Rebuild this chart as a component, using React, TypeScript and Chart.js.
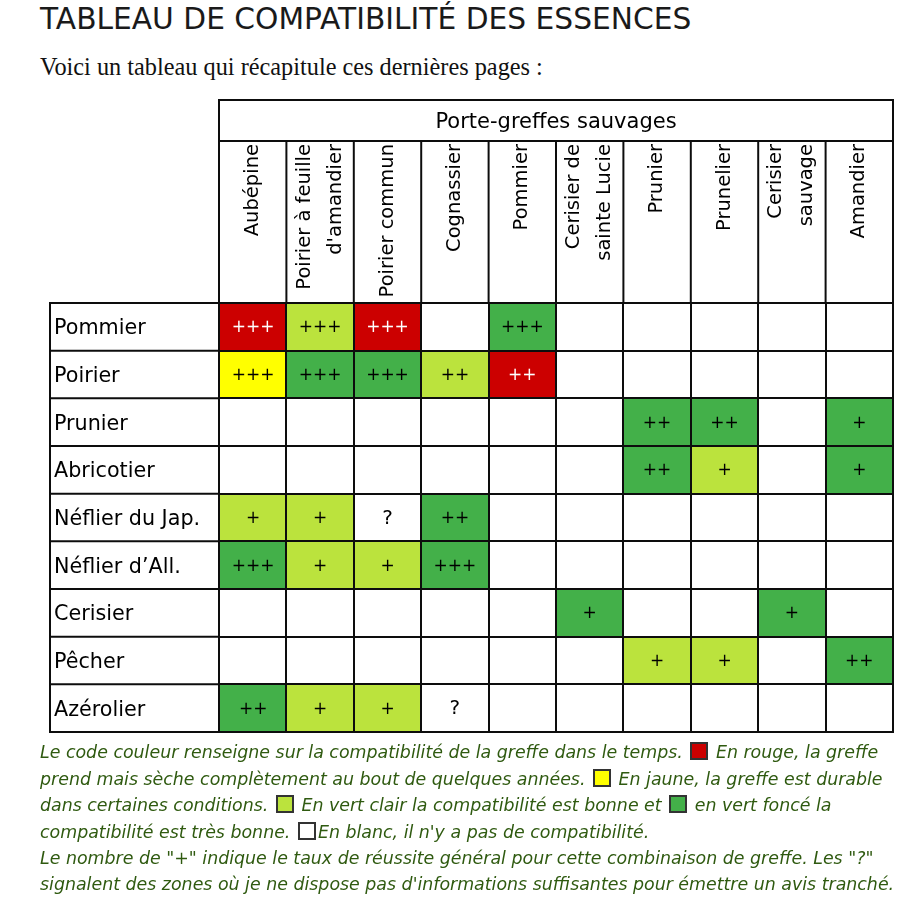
import React, { useEffect, useRef } from "react";
import { Chart, registerables } from "chart.js";
Chart.register(...registerables);

const TITLE = "TABLEAU DE COMPATIBILITÉ DES ESSENCES";
const SUBTITLE = "Voici un tableau qui récapitule ces dernières pages :";
const HEADER = "Porte-greffes sauvages";

const rootstocks: string[][] = [
  ["Aubépine"],
  ["Poirier à feuille", "d'amandier"],
  ["Poirier commun"],
  ["Cognassier"],
  ["Pommier"],
  ["Cerisier de", "sainte Lucie"],
  ["Prunier"],
  ["Prunelier"],
  ["Cerisier", "sauvage"],
  ["Amandier"],
];

const scions = [
  "Pommier",
  "Poirier",
  "Prunier",
  "Abricotier",
  "Néflier du Jap.",
  "Néflier d’All.",
  "Cerisier",
  "Pêcher",
  "Azérolier",
];

// R = rouge, Y = jaune, L = vert clair, D = vert foncé, "" = blanc
const colorCodes: string[][] = [
  ["R", "L", "R", "", "D", "", "", "", "", ""],
  ["Y", "D", "D", "L", "R", "", "", "", "", ""],
  ["", "", "", "", "", "", "D", "D", "", "D"],
  ["", "", "", "", "", "", "D", "L", "", "D"],
  ["L", "L", "", "D", "", "", "", "", "", ""],
  ["D", "L", "L", "D", "", "", "", "", "", ""],
  ["", "", "", "", "", "D", "", "", "D", ""],
  ["", "", "", "", "", "", "L", "L", "", "D"],
  ["D", "L", "L", "", "", "", "", "", "", ""],
];

const marks: string[][] = [
  ["+++", "+++", "+++", "", "+++", "", "", "", "", ""],
  ["+++", "+++", "+++", "++", "++", "", "", "", "", ""],
  ["", "", "", "", "", "", "++", "++", "", "+"],
  ["", "", "", "", "", "", "++", "+", "", "+"],
  ["+", "+", "?", "++", "", "", "", "", "", ""],
  ["+++", "+", "+", "+++", "", "", "", "", "", ""],
  ["", "", "", "", "", "+", "", "", "+", ""],
  ["", "", "", "", "", "", "+", "+", "", "++"],
  ["++", "+", "+", "?", "", "", "", "", "", ""],
];

const palette: Record<string, string> = {
  R: "#cc0000",
  Y: "#ffff00",
  L: "#bbe33d",
  D: "#43b049",
  "": "#ffffff",
};

const LINE = "#0d0d0d";
const FOOT = "#2f5a10";

function Box({ c }: { c: string }) {
  return (
    <span
      style={{
        display: "inline-block",
        width: 14,
        height: 14,
        background: c,
        border: "2px solid #333",
        verticalAlign: "-2px",
        margin: "0 2px",
      }}
    />
  );
}

export default function App() {
  const ref = useRef<HTMLCanvasElement>(null);

  useEffect(() => {
    const canvas = ref.current!;
    const tablePlugin = {
      id: "tableDecor",
      afterDraw(chart: any) {
        const { ctx, chartArea } = chart;
        const xs = chart.scales.x;
        const ys = chart.scales.y;
        const n = rootstocks.length;
        const x0 = xs.getPixelForValue(0);
        const x1 = xs.getPixelForValue(n);
        const headTop = 100;
        const headBot = 141;
        const line = (ax: number, ay: number, bx: number, by: number) => {
          ctx.beginPath();
          ctx.moveTo(ax, ay);
          ctx.lineTo(bx, by);
          ctx.stroke();
        };
        ctx.save();
        ctx.strokeStyle = LINE;
        ctx.lineWidth = 2;
        ctx.strokeRect(x0, headTop, x1 - x0, headBot - headTop);
        for (let i = 0; i <= n; i++) {
          const x = xs.getPixelForValue(i);
          line(x, headBot, x, chartArea.top);
        }
        // row label column
        const step = ys.getPixelForValue(1) - ys.getPixelForValue(0);
        const lx = 50;
        line(lx, chartArea.top - 1, lx, chartArea.bottom + 1);
        for (let i = 0; i <= scions.length; i++) {
          const y = ys.getPixelForValue(i) - step / 2;
          line(lx - 1, y, x0, y);
        }
        // header title
        ctx.fillStyle = "#000";
        ctx.textBaseline = "alphabetic";
        ctx.textAlign = "center";
        ctx.font = "21px 'DejaVu Sans'";
        ctx.fillText(HEADER, (x0 + x1) / 2, 128);
        // rotated column labels
        ctx.font = "19.5px 'DejaVu Sans'";
        ctx.textAlign = "right";
        ctx.textBaseline = "middle";
        rootstocks.forEach((lines, j) => {
          const cx = xs.getPixelForValue(j + 0.5);
          const gap = 31;
          lines.forEach((t, k) => {
            const off = (k - (lines.length - 1) / 2) * gap;
            ctx.save();
            ctx.translate(cx + off, 144);
            ctx.rotate(-Math.PI / 2);
            ctx.fillText(t, 0, 0);
            ctx.restore();
          });
        });
        // cell marks
        ctx.textAlign = "center";
        ctx.textBaseline = "middle";
        chart.data.datasets.forEach((ds: any, j: number) => {
          const meta = chart.getDatasetMeta(j);
          meta.data.forEach((el: any, i: number) => {
            const t = marks[i][j];
            if (!t) return;
            ctx.font = t === "?" ? "20px 'DejaVu Sans'" : "17px 'DejaVu Sans'";
            ctx.fillStyle = colorCodes[i][j] === "R" ? "#ffffff" : "#000000";
            ctx.fillText(t, (el.x + el.base) / 2, el.y + 1);
          });
        });
        ctx.restore();
      },
    };

    const chart = new Chart(canvas, {
      type: "bar",
      data: {
        labels: scions,
        datasets: rootstocks.map((r, j) => ({
          label: r.join(" "),
          data: scions.map(() => [j, j + 1]),
          backgroundColor: scions.map((_, i) => palette[colorCodes[i][j]]),
          borderWidth: 0,
          barPercentage: 1,
          categoryPercentage: 1,
          grouped: false,
        })),
      } as any,
      options: {
        indexAxis: "y",
        responsive: false,
        maintainAspectRatio: false,
        animation: false,
        layout: { padding: { left: 54, top: 303, right: 27, bottom: 181 } },
        plugins: {
          legend: { display: false },
          tooltip: { enabled: false },
          title: { display: false },
        },
        scales: {
          x: {
            type: "linear",
            min: 0,
            max: rootstocks.length,
            position: "bottom",
            ticks: { display: false, stepSize: 1 },
            grid: { color: LINE, lineWidth: 2, drawTicks: false, z: 1 },
            border: { display: true, color: LINE, width: 2, z: 1 },
            afterFit: (s: any) => {
              s.height = 0;
            },
          },
          y: {
            type: "category",
            offset: true,
            ticks: {
              crossAlign: "far",
              color: "#000",
              padding: 0,
              labelOffset: 2,
              font: { family: "DejaVu Sans", size: 20.7 },
            },
            grid: { color: LINE, lineWidth: 2, drawTicks: false, offset: true, z: 1 },
            border: { display: true, color: LINE, width: 2, z: 1 },
            afterFit: (s: any) => {
              s.width = 165;
            },
          },
        },
      } as any,
      plugins: [tablePlugin],
    });
    return () => chart.destroy();
  }, []);

  const foot: React.CSSProperties = {
    position: "absolute",
    left: 40,
    top: 739.3,
    fontFamily: "'DejaVu Sans'",
    fontStyle: "italic",
    fontSize: 17.4,
    lineHeight: "26.4px",
    color: FOOT,
    whiteSpace: "nowrap",
    margin: 0,
  };

  return (
    <div style={{ position: "absolute", left: 0, top: 0, width: 920, height: 913, background: "#fff" }}>
      <div
        style={{
          position: "absolute",
          left: 40,
          top: 4,
          fontFamily: "'DejaVu Sans'",
          fontSize: 29.7,
          lineHeight: "30px",
          color: "#1a1a1a",
          whiteSpace: "nowrap",
        }}
      >
        {TITLE}
      </div>
      <div
        style={{
          position: "absolute",
          left: 40,
          top: 55,
          fontFamily: "'Liberation Serif'",
          fontSize: 24.3,
          lineHeight: "24px",
          color: "#111",
          whiteSpace: "nowrap",
        }}
      >
        {SUBTITLE}
      </div>
      <canvas ref={ref} width={920} height={913} style={{ position: "absolute", left: 0, top: 0 }} />
      <div style={foot}>
        Le code couleur renseigne sur la compatibilité de la greffe dans le temps. <Box c={palette.R} /> En rouge, la greffe
        <br />
        prend mais sèche complètement au bout de quelques années. <Box c={palette.Y} /> En jaune, la greffe est durable
        <br />
        dans certaines conditions. <Box c={palette.L} /> En vert clair la compatibilité est bonne et <Box c={palette.D} /> en vert foncé la
        <br />
        compatibilité est très bonne. <Box c="#ffffff" />En blanc, il n'y a pas de compatibilité.
        <br />
        Le nombre de "+" indique le taux de réussite général pour cette combinaison de greffe. Les "?"
        <br />
        signalent des zones où je ne dispose pas d'informations suffisantes pour émettre un avis tranché.
      </div>
    </div>
  );
}
